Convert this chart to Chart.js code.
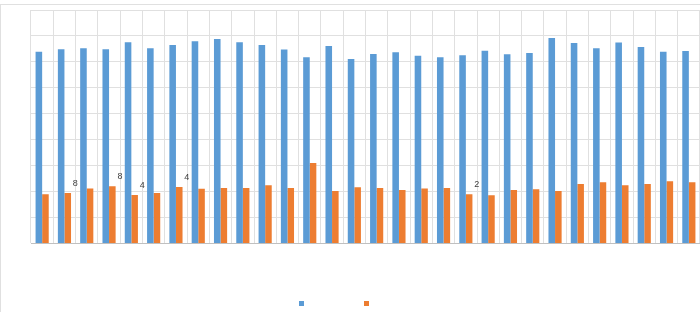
<!DOCTYPE html>
<html>
<head>
<meta charset="utf-8">
<script src="https://cdn.jsdelivr.net/npm/chart.js@4"></script>
<style>
  html, body { margin: 0; padding: 0; background: #ffffff; }
  #wrap { position: relative; width: 700px; height: 312px; overflow: hidden; }
  #frame { position: absolute; left: 0; top: 4px; width: 720px; height: 330px;
           border-top: 1px solid #e0e0e0; border-left: 1px solid #e0e0e0; box-sizing: border-box; }
  #c { position: absolute; left: 0; top: 0; }
</style>
</head>
<body>
<div id="wrap">
  <div id="frame"></div>
  <canvas id="c" width="700" height="312"></canvas>
</div>
<script>
const categories = ['1','2','3','4','5','6','7','8','9','10','11','12','13','14','15',
                    '16','17','18','19','20','21','22','23','24','25','26','27','28','29','30'];
const blueValues = [73.9, 74.9, 75.3, 74.9, 77.6, 75.3, 76.5, 78.0, 78.8, 77.6,
                    76.5, 74.8, 71.8, 76.1, 71.1, 73.0, 73.7, 72.4, 71.8, 72.6,
                    74.3, 72.9, 73.4, 79.2, 77.3, 75.3, 77.5, 75.7, 73.9, 74.2];
const orangeValues = [19.0, 19.5, 21.2, 22.1, 18.7, 19.5, 21.8, 21.1, 21.4, 21.4,
                      22.5, 21.4, 31.0, 20.2, 21.7, 21.4, 20.6, 21.2, 21.4, 19.0,
                      18.6, 20.6, 20.9, 20.2, 22.9, 23.6, 22.5, 22.9, 24.0, 23.6];
const orangeLabels = ['', '8', '', '8', '4', '', '4', '', '', '',
                      '', '', '', '', '', '', '', '', '', '2',
                      '', '', '', '', '', '', '', '', '', ''];
const yMin = 0, yMax = 90, yStep = 10;

const labelPlugin = {
  id: 'barLabels',
  afterDatasetsDraw(chart) {
    const meta = chart.getDatasetMeta(1);
    const ctx = chart.ctx;
    ctx.save();
    ctx.font = '9px "Liberation Sans", Arial, sans-serif';
    ctx.fillStyle = '#404040';
    ctx.textAlign = 'center';
    ctx.textBaseline = 'middle';
    meta.data.forEach((bar, i) => {
      const t = orangeLabels[i];
      if (t) ctx.fillText(t, bar.x + 7.6, bar.y - 9.5);
    });
    ctx.restore();
  }
};

new Chart(document.getElementById('c'), {
  type: 'bar',
  data: {
    labels: categories,
    datasets: [
      { label: '', data: blueValues, backgroundColor: '#5B9BD5', borderWidth: 0,
        categoryPercentage: 0.59, barPercentage: 1.0 },
      { label: '', data: orangeValues, backgroundColor: '#ED7D31', borderWidth: 0,
        categoryPercentage: 0.59, barPercentage: 1.0 }
    ]
  },
  options: {
    responsive: false,
    animation: false,
    devicePixelRatio: 1,
    layout: { padding: { left: -26, right: 0, top: 10, bottom: -7.5 } },
    plugins: {
      legend: {
        display: true,
        position: 'bottom',
        labels: { boxWidth: 5, boxHeight: 5, padding: 54,
                  font: { size: 12, family: '"Liberation Sans", Arial, sans-serif' } }
      },
      tooltip: { enabled: false }
    },
    scales: {
      x: {
        grid: { color: '#e0e0e0', lineWidth: 1, drawTicks: false, offset: true },
        border: { color: '#c0c0c0', width: 1 },
        ticks: { display: false },
        afterFit(scale) { scale.height = 0; }
      },
      y: {
        min: yMin, max: yMax,
        grid: { color: '#e0e0e0', lineWidth: 1, drawTicks: false },
        border: { display: false },
        ticks: { display: false, stepSize: yStep },
        afterFit(scale) { scale.width = 57; }
      }
    }
  },
  plugins: [labelPlugin]
});
</script>
</body>
</html>
